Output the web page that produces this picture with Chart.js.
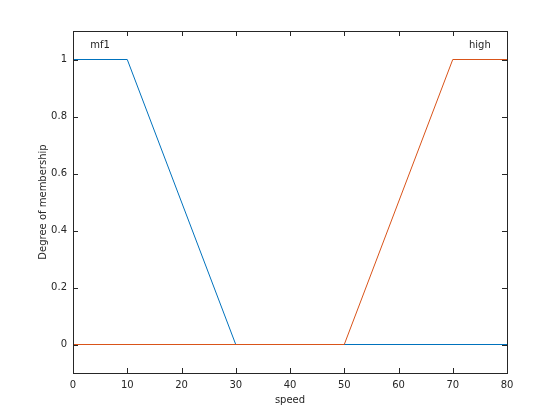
<!DOCTYPE html>
<html>
<head>
<meta charset="utf-8">
<script src="https://cdn.jsdelivr.net/npm/chart.js@4"></script>
<style>
  body { margin: 0; background: #fff; }
  #wrap { width: 560px; height: 420px; }
</style>
</head>
<body>
<div id="wrap"><canvas id="mfChart" width="560" height="420"></canvas></div>
<script>
// membership functions
const mf1X = [0, 10, 30, 80];
const mf1Y = [1, 1, 0, 0];
const highX = [0, 50, 70, 80];
const highY = [0, 0, 1, 1];
const xTicks = [0, 10, 20, 30, 40, 50, 60, 70, 80];
const yTicks = [0, 0.2, 0.4, 0.6, 0.8, 1];
const mfNames = ['mf1', 'high'];
const nameX = [5, 75];
const nameY = [1.05, 1.05];

const axisColor = '#262626';
const font = { family: 'DejaVu Sans', size: 10 };

const toPoints = (xs, ys) => xs.map((x, i) => ({ x: x, y: ys[i] }));

// box + inward ticks on all four sides, plus the mf labels
const boxPlugin = {
  id: 'box',
  afterDraw(chart) {
    const ctx = chart.ctx;
    const a = chart.chartArea;
    const xs = chart.scales.x, ys = chart.scales.y;
    ctx.save();
    ctx.strokeStyle = axisColor;
    ctx.lineWidth = 1;
    ctx.strokeRect(Math.round(a.left) + 0.5, Math.round(a.top) + 0.5,
      Math.round(a.right - a.left), Math.round(a.bottom - a.top));
    ctx.beginPath();
    xTicks.forEach(v => {
      const px = Math.round(xs.getPixelForValue(v)) + 0.5;
      ctx.moveTo(px, a.bottom); ctx.lineTo(px, a.bottom - 5);
      ctx.moveTo(px, a.top); ctx.lineTo(px, a.top + 5);
    });
    yTicks.forEach(v => {
      const py = Math.round(ys.getPixelForValue(v)) + 0.5;
      ctx.moveTo(a.left, py); ctx.lineTo(a.left + 5, py);
      ctx.moveTo(a.right, py); ctx.lineTo(a.right - 5, py);
    });
    ctx.stroke();
    ctx.fillStyle = axisColor;
    ctx.font = '10px "DejaVu Sans"';
    ctx.textAlign = 'center';
    ctx.textBaseline = 'middle';
    mfNames.forEach((n, i) => {
      ctx.fillText(n, xs.getPixelForValue(nameX[i]), ys.getPixelForValue(nameY[i]));
    });
    ctx.restore();
  }
};

new Chart(document.getElementById('mfChart'), {
  type: 'line',
  data: {
    datasets: [
      {
        label: 'mf1',
        data: toPoints(mf1X, mf1Y),
        borderColor: '#0072BD',
        borderWidth: 1,
        pointRadius: 0,
        tension: 0,
        order: 1
      },
      {
        label: 'high',
        data: toPoints(highX, highY),
        borderColor: '#D95319',
        borderWidth: 1,
        pointRadius: 0,
        tension: 0,
        order: 0
      }
    ]
  },
  options: {
    responsive: false,
    animation: false,
    layout: { padding: { left: 37, right: 53, top: 31, bottom: 14 } },
    plugins: { legend: { display: false }, tooltip: { enabled: false } },
    scales: {
      x: {
        type: 'linear',
        min: 0,
        max: 80,
        grid: { display: false, drawTicks: false },
        border: { display: false },
        afterBuildTicks: s => { s.ticks = xTicks.map(v => ({ value: v })); },
        afterFit: s => { s.height = 33; },
        ticks: { color: axisColor, font: font, padding: 6, maxRotation: 0 },
        title: { display: true, text: 'speed', color: axisColor, font: font, padding: { top: 1, bottom: 0 } }
      },
      y: {
        type: 'linear',
        min: -0.1,
        max: 1.1,
        grid: { display: false, drawTicks: false },
        border: { display: false },
        afterBuildTicks: s => { s.ticks = yTicks.map(v => ({ value: v })); },
        afterFit: s => { s.width = 36; },
        ticks: { color: axisColor, font: font, padding: 6, callback: v => String(+v.toFixed(1)) },
        title: { display: true, text: 'Degree of membership', color: axisColor, font: font, padding: { top: 0, bottom: 0 } }
      }
    }
  },
  plugins: [boxPlugin]
});
</script>
</body>
</html>
